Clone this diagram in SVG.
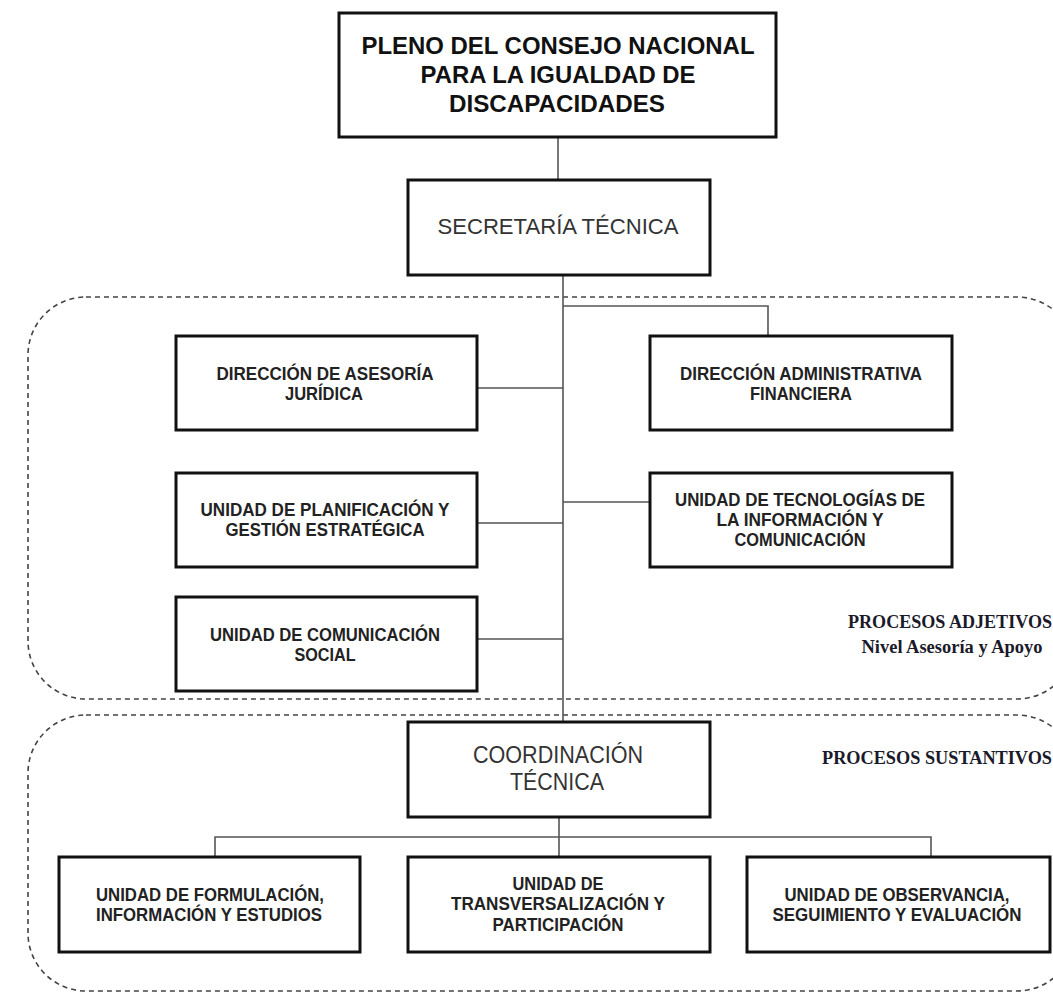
<svg xmlns="http://www.w3.org/2000/svg" width="1053" height="993" viewBox="0 0 1053 993">
<style>
.box{fill:#fff;stroke:#111;stroke-width:3}
.grp{fill:none;stroke:#444;stroke-width:1.6;stroke-dasharray:5 4}
.con{fill:none;stroke:#555;stroke-width:1.6}
.t{font-family:"Liberation Sans Narrow","Liberation Sans",Arial,sans-serif;font-weight:bold;font-size:17.5px;fill:#222;text-anchor:middle}
.h{font-family:"Liberation Sans",Arial,sans-serif;font-weight:bold;font-size:24px;fill:#111;text-anchor:middle}
.m{font-family:"Liberation Sans",Arial,sans-serif;font-size:22px;fill:#333;text-anchor:middle}
.p{font-family:"Liberation Serif","Times New Roman",serif;font-weight:bold;font-size:18px;fill:#1a1a2a;text-anchor:middle}
</style>
<rect width="1053" height="993" fill="#fff"/>
<g id="groups">
<rect class="grp" x="28" y="297" width="1047" height="402" rx="58" ry="58"/>
<rect class="grp" x="28" y="715" width="1047" height="276" rx="58" ry="58"/>
</g>
<g id="connectors">
<line class="con" x1="558" y1="138" x2="558" y2="180"/>
<line class="con" x1="563" y1="275" x2="563" y2="722"/>
<polyline class="con" points="563,306 768,306 768,336"/>
<line class="con" x1="477" y1="388" x2="563" y2="388"/>
<line class="con" x1="477" y1="523" x2="563" y2="523"/>
<line class="con" x1="563" y1="502" x2="650" y2="502"/>
<line class="con" x1="477" y1="639" x2="563" y2="639"/>
<line class="con" x1="559" y1="817" x2="559" y2="857"/>
<polyline class="con" points="215,857 215,837 931,837 931,857"/>
</g>
<g id="pleno">
<rect class="box" x="339" y="13" width="437" height="124"/>
<text class="h" x="558" y="54" textLength="393" lengthAdjust="spacingAndGlyphs">PLENO DEL CONSEJO NACIONAL</text>
<text class="h" x="558" y="83" textLength="275" lengthAdjust="spacingAndGlyphs">PARA LA IGUALDAD DE</text>
<text class="h" x="557" y="112" textLength="216" lengthAdjust="spacingAndGlyphs">DISCAPACIDADES</text>
</g>
<g id="secretaria">
<rect class="box" x="408" y="180" width="302" height="95"/>
<text class="m" x="558" y="234" textLength="241" lengthAdjust="spacingAndGlyphs">SECRETARÍA TÉCNICA</text>
</g>
<g id="dir-asesoria-juridica">
<rect class="box" x="176" y="336" width="301" height="94"/>
<text class="t" x="325" y="380" textLength="217" lengthAdjust="spacingAndGlyphs">DIRECCIÓN DE ASESORÍA</text>
<text class="t" x="324" y="400" textLength="78" lengthAdjust="spacingAndGlyphs">JURÍDICA</text>
</g>
<g id="dir-administrativa-financiera">
<rect class="box" x="650" y="336" width="302" height="94"/>
<text class="t" x="801" y="380" textLength="242" lengthAdjust="spacingAndGlyphs">DIRECCIÓN ADMINISTRATIVA</text>
<text class="t" x="801" y="400" textLength="102" lengthAdjust="spacingAndGlyphs">FINANCIERA</text>
</g>
<g id="unidad-planificacion">
<rect class="box" x="176" y="473" width="301" height="94"/>
<text class="t" x="325" y="516" textLength="249" lengthAdjust="spacingAndGlyphs">UNIDAD DE PLANIFICACIÓN Y</text>
<text class="t" x="325" y="536" textLength="199" lengthAdjust="spacingAndGlyphs">GESTIÓN ESTRATÉGICA</text>
</g>
<g id="unidad-tic">
<rect class="box" x="650" y="473" width="302" height="94"/>
<text class="t" x="800" y="506" textLength="250" lengthAdjust="spacingAndGlyphs">UNIDAD DE TECNOLOGÍAS DE</text>
<text class="t" x="800" y="526" textLength="167" lengthAdjust="spacingAndGlyphs">LA INFORMACIÓN Y</text>
<text class="t" x="800" y="546" textLength="131" lengthAdjust="spacingAndGlyphs">COMUNICACIÓN</text>
</g>
<g id="unidad-comunicacion-social">
<rect class="box" x="176" y="597" width="301" height="94"/>
<text class="t" x="325" y="641" textLength="230" lengthAdjust="spacingAndGlyphs">UNIDAD DE COMUNICACIÓN</text>
<text class="t" x="325" y="661" textLength="61" lengthAdjust="spacingAndGlyphs">SOCIAL</text>
</g>
<g id="label-adjetivos">
<text class="p" x="950" y="628" textLength="204" lengthAdjust="spacingAndGlyphs">PROCESOS ADJETIVOS</text>
<text class="p" x="952" y="653" textLength="181" lengthAdjust="spacingAndGlyphs">Nivel Asesoría y Apoyo</text>
</g>
<g id="coordinacion">
<rect class="box" x="408" y="722" width="302" height="95"/>
<text class="m" x="558" y="763" style="font-size:23px" textLength="170" lengthAdjust="spacingAndGlyphs">COORDINACIÓN</text>
<text class="m" x="557" y="790" style="font-size:23px" textLength="94" lengthAdjust="spacingAndGlyphs">TÉCNICA</text>
</g>
<g id="label-sustantivos">
<text class="p" x="937" y="764" textLength="230" lengthAdjust="spacingAndGlyphs">PROCESOS SUSTANTIVOS</text>
</g>
<g id="unidad-formulacion">
<rect class="box" x="59" y="857" width="301" height="95"/>
<text class="t" x="210" y="901" textLength="228" lengthAdjust="spacingAndGlyphs">UNIDAD DE FORMULACIÓN,</text>
<text class="t" x="209" y="921" textLength="226" lengthAdjust="spacingAndGlyphs">INFORMACIÓN Y ESTUDIOS</text>
</g>
<g id="unidad-transversalizacion">
<rect class="box" x="408" y="857" width="302" height="95"/>
<text class="t" x="558" y="890" textLength="91" lengthAdjust="spacingAndGlyphs">UNIDAD DE</text>
<text class="t" x="558" y="910" textLength="214" lengthAdjust="spacingAndGlyphs">TRANSVERSALIZACIÓN Y</text>
<text class="t" x="558" y="931" textLength="131" lengthAdjust="spacingAndGlyphs">PARTICIPACIÓN</text>
</g>
<g id="unidad-observancia">
<rect class="box" x="747" y="857" width="303" height="95"/>
<text class="t" x="897" y="901" textLength="225" lengthAdjust="spacingAndGlyphs">UNIDAD DE OBSERVANCIA,</text>
<text class="t" x="897" y="921" textLength="249" lengthAdjust="spacingAndGlyphs">SEGUIMIENTO Y EVALUACIÓN</text>
</g>
</svg>
